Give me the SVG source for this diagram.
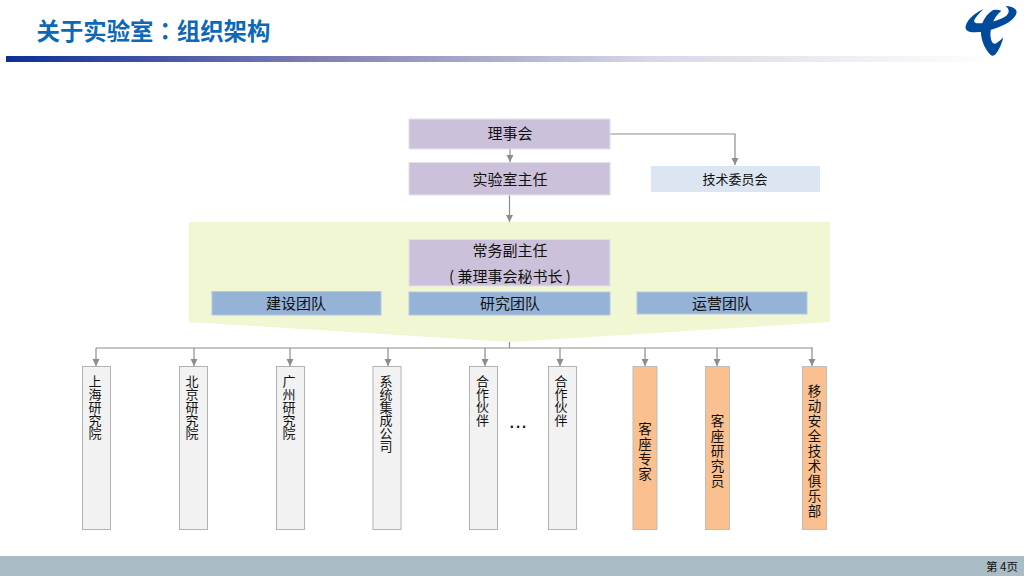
<svg xmlns="http://www.w3.org/2000/svg" width="1024" height="576" viewBox="0 0 1024 576">
<style>
text{font-family:"Noto Sans CJK SC","Liberation Sans",sans-serif;fill:#111}
.t{font-size:15px;text-anchor:middle}
.v{font-size:13px;text-anchor:middle}
.o{font-size:13.500px;text-anchor:middle}
.pu{fill:#ccc1da;stroke:#e4dfec;stroke-width:1}
.bl{fill:#95b3d7;stroke:#b4c9e3;stroke-width:1}
.gr{fill:#f2f2f2;stroke:#b2b2b2;stroke-width:1}
.or{fill:#fac090;stroke:#bdbdbd;stroke-width:1}
.c{fill:none;stroke:#8c8c8c;stroke-width:1.200}
</style>
<defs>
<linearGradient id="bar" x1="0" x2="1" y1="0" y2="0">
<stop offset="0" stop-color="#0a2f96"/>
<stop offset="0.3" stop-color="#7b7cb2"/>
<stop offset="0.65" stop-color="#d8d8e6"/>
<stop offset="1" stop-color="#ffffff"/>
</linearGradient>
<marker id="a" markerUnits="userSpaceOnUse" markerWidth="8" markerHeight="8" refX="7" refY="3.500" orient="auto">
<path d="M0 0L7 3.500L0 7z" fill="#8c8c8c"/>
</marker>
</defs>
<rect width="1024" height="576" fill="#fff"/>
<g id="header">
<text x="36.500" y="39.500" style="font-size:23.400px;font-weight:700;fill:#0d68b5">关于实验室<tspan style="font-family:'Noto Sans CJK TC',sans-serif">：</tspan>组织架构</text>
<rect x="6" y="56" width="994" height="6" fill="url(#bar)"/>
</g>
<g id="logo" fill="#004a9c" transform="translate(944 0) scale(0.3333)">
<path d="M118 28C95 38 72 55 65 78C62 92 75 98 95 97C130 95 170 82 195 66C212 54 222 40 216 30C210 22 198 18 185 18C197 28 198 40 183 50C160 63 125 71 102 70C92 70 88 65 92 58C98 48 108 38 118 28Z"/>
<path d="M148 30C128 42 114 62 111 88C109 115 120 145 140 165C145 169 152 168 157 160C166 148 174 130 178 112C170 120 162 128 154 131C147 133 142 125 140 112C137 90 145 55 172 32C165 29 156 28 148 30Z"/>
</g>
<polygon id="panel" points="189,222 830,222 830,322 510,342 189,322" fill="#f1f6d3"/>
<g id="connectors">
<path class="c" d="M510 149V162" marker-end="url(#a)"/>
<path class="c" d="M610 134H735V165" marker-end="url(#a)"/>
<path class="c" d="M509.500 195V222" marker-end="url(#a)"/>
<path class="c" d="M509.500 342V348"/>
<path class="c" d="M96 348H813"/>
<path class="c" d="M96 348V366" marker-end="url(#a)"/>
<path class="c" d="M194 348V366" marker-end="url(#a)"/>
<path class="c" d="M290 348V366" marker-end="url(#a)"/>
<path class="c" d="M388 348V366" marker-end="url(#a)"/>
<path class="c" d="M485 348V366" marker-end="url(#a)"/>
<path class="c" d="M560 348V366" marker-end="url(#a)"/>
<path class="c" d="M645 348V366" marker-end="url(#a)"/>
<path class="c" d="M717 348V366" marker-end="url(#a)"/>
<path class="c" d="M812 348V366" marker-end="url(#a)"/>
</g>
<g id="n1"><rect class="pu" x="409" y="119" width="201" height="30"/><text class="t" x="510" y="139">理事会</text></g>
<g id="n2"><rect class="pu" x="409" y="162.500" width="201" height="32.500"/><text class="t" x="510" y="184.500">实验室主任</text></g>
<g id="n3"><rect x="651" y="166" width="169" height="26" fill="#dce6f2"/><text class="t" x="735" y="184" style="font-size:13px">技术委员会</text></g>
<g id="n4"><rect class="pu" x="409" y="239.500" width="201" height="46.500"/><text class="t" x="510" y="255.500">常务副主任</text><text class="t" x="510" y="281.500">( 兼理事会秘书长 )</text></g>
<g id="n5"><rect class="bl" x="212" y="291.500" width="169" height="23.500"/><text class="t" x="296" y="309">建设团队</text></g>
<g id="n6"><rect class="bl" x="409" y="292" width="201" height="23"/><text class="t" x="510" y="309">研究团队</text></g>
<g id="n7"><rect class="bl" x="637" y="292" width="170" height="22"/><text class="t" x="722" y="309">运营团队</text></g>
<g id="b1"><rect class="gr" x="82.500" y="366.500" width="28" height="163"/><text class="v" x="95 95 95 95 95" y="386 399 412 425 438">上海研究院</text></g>
<g id="b2"><rect class="gr" x="179.500" y="366.500" width="28" height="163"/><text class="v" x="192 192 192 192 192" y="386 399 412 425 438">北京研究院</text></g>
<g id="b3"><rect class="gr" x="276.500" y="366.500" width="28" height="163"/><text class="v" x="289 289 289 289 289" y="386 399 412 425 438">广州研究院</text></g>
<g id="b4"><rect class="gr" x="373" y="366.500" width="28" height="163"/><text class="v" x="386 386 386 386 386 386" y="386 399 412 425 438 451">系统集成公司</text></g>
<g id="b5"><rect class="gr" x="469.500" y="366.500" width="28" height="163"/><text class="v" x="482.500 482.500 482.500 482.500" y="386 399 412 425">合作伙伴</text></g>
<g id="dots"><text x="518" y="428" style="font-size:22px;text-anchor:middle;font-family:'Liberation Sans',sans-serif">...</text></g>
<g id="b6"><rect class="gr" x="548.500" y="366.500" width="28" height="163"/><text class="v" x="561 561 561 561" y="386 399 412 425">合作伙伴</text></g>
<g id="b7"><rect class="or" x="633" y="366.500" width="24" height="163"/><text class="o" x="645 645 645 645" y="434 449 464 479">客座专家</text></g>
<g id="b8"><rect class="or" x="705.500" y="366.500" width="24" height="163"/><text class="o" x="717.500 717.500 717.500 717.500 717.500" y="426 441 456 471 486">客座研究员</text></g>
<g id="b9"><rect class="or" x="802.500" y="366.500" width="24" height="163"/><text class="o" x="814.500 814.500 814.500 814.500 814.500 814.500 814.500 814.500 814.500" y="396 411 426 441 456 471 486 501 516">移动安全技术俱乐部</text></g>
<g id="footer">
<rect x="0" y="556" width="1024" height="20" fill="#aabdc6"/>
<text x="986" y="571" style="font-size:11.500px">第 4页</text>
</g>
</svg>
